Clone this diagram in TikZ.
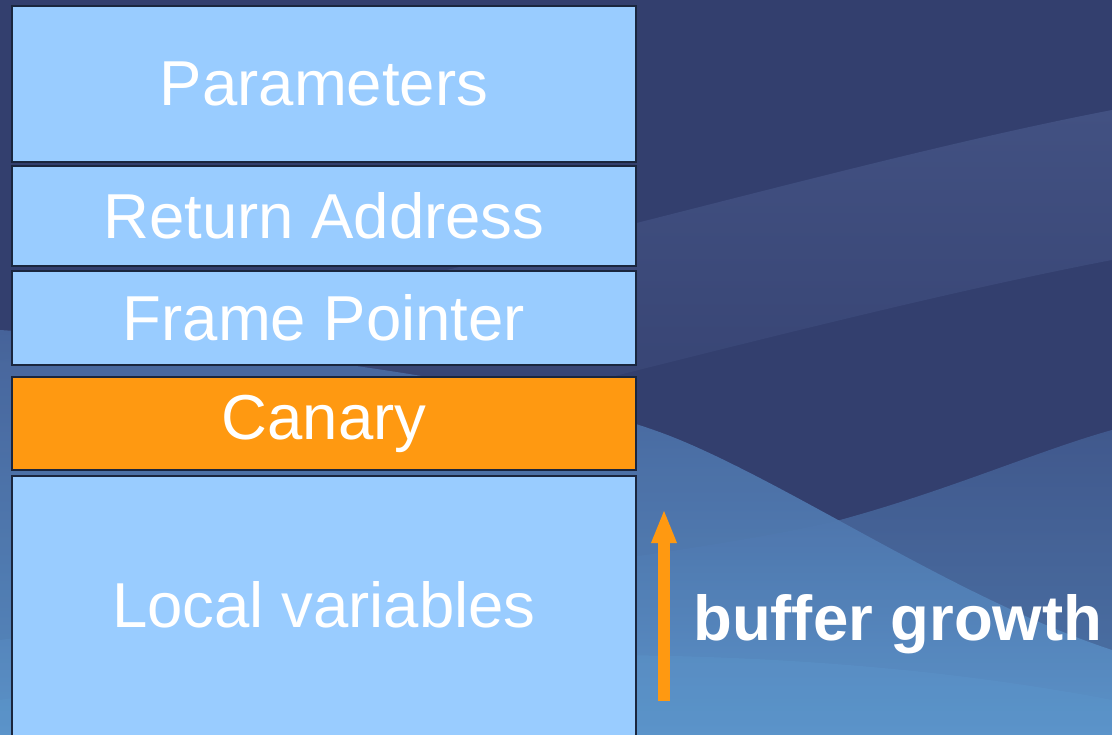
\documentclass[tikz,border=0pt]{standalone}
\usepackage{fontspec}
\setmainfont{Liberation Sans}
\usetikzlibrary{arrows.meta}
\definecolor{navy}{RGB}{51,63,110}
\definecolor{navylight}{RGB}{66,81,130}
\definecolor{wavemid}{RGB}{74,106,162}
\definecolor{wavelight}{RGB}{93,152,206}
\definecolor{boxblue}{RGB}{153,204,255}
\definecolor{boxedge}{RGB}{26,38,62}
\definecolor{canaryorange}{RGB}{255,153,17}
\tikzset{
  stackbox/.style={draw=boxedge, line width=1.5pt, fill=boxblue, text=white,
    minimum width=624pt, inner sep=0pt, outer sep=0pt,
    font=\fontsize{63.5}{70}\selectfont},
  growth/.style={-{Triangle[width=23pt,length=34pt]}, line width=12pt, draw=canaryorange},
}
\begin{document}
\begin{tikzpicture}[x=1pt,y=-1pt]
\useasboundingbox (0,0) rectangle (1112,735);
% backdrop
\fill[navy] (0,0) rectangle (1112,735);
\shade[top color=navylight, bottom color=navy]
  (0,360) .. controls (400,300) and (800,170) .. (1112,110)
  -- (1112,260) .. controls (800,320) and (400,440) .. (0,520) -- cycle;
\shade[top color=wavemid, bottom color=wavelight, opacity=0.85]
  (0,330) .. controls (300,350) and (560,390) .. (680,440)
  .. controls (800,490) and (960,600) .. (1112,650)
  -- (1112,735) -- (0,735) -- cycle;
\shade[top color=wavemid, bottom color=wavelight, opacity=0.6]
  (0,640) .. controls (300,600) and (700,555) .. (840,520)
  .. controls (950,490) and (1040,450) .. (1112,430)
  -- (1112,735) -- (0,735) -- cycle;
\fill[wavelight, opacity=0.35]
  (0,700) .. controls (400,640) and (800,640) .. (1112,700)
  -- (1112,735) -- (0,735) -- cycle;
% stack frame
\node[stackbox, minimum height=156pt] (params) at (324,84) {Parameters};
\node[stackbox, minimum height=100pt] (ret) at (324,216) {Return Address};
\node[stackbox, minimum height=94pt] (fp) at (324,318) {Frame Pointer};
\node[stackbox, minimum height=93pt, fill=canaryorange] (canary) at (324,423.5) {Canary};
\node[stackbox, minimum height=264pt] (locals) at (324,608) {};
\node[text=white, font=\fontsize{63.5}{70}\selectfont, inner sep=0pt] (localtext) at (324,605) {Local variables};
% growth direction
\coordinate (gbot) at (664,701);
\coordinate (gtop) at (664,509);
\draw[growth] (gbot) -- (gtop);
\node[anchor=base west, inner sep=0pt, text=white, font=\fontsize{63.5}{70}\selectfont\bfseries] (growthlabel) at (693,640) {buffer growth};
\end{tikzpicture}
\end{document}
